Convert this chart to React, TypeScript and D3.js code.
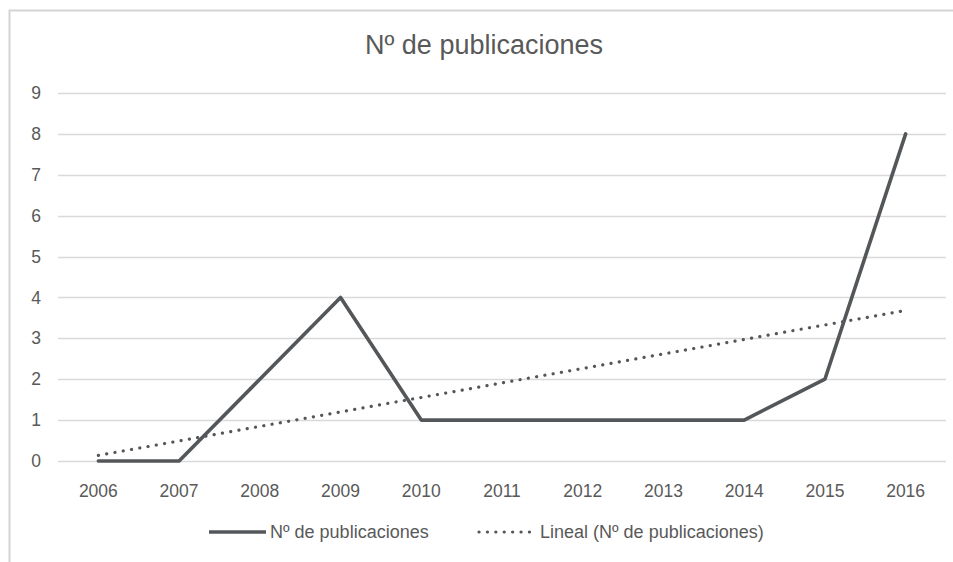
import { useEffect, useRef } from "react";
import * as d3 from "d3";

const YEARS = ["2006", "2007", "2008", "2009", "2010", "2011", "2012", "2013", "2014", "2015", "2016"];
const PUBS = [0, 0, 2, 4, 1, 1, 1, 1, 1, 2, 8];
const Y_TICKS = [0, 1, 2, 3, 4, 5, 6, 7, 8, 9];

const TITLE = "Nº de publicaciones";
const SERIES_LABEL = "Nº de publicaciones";
const TREND_LABEL = "Lineal (Nº de publicaciones)";

const W = 953;
const H = 562;
const FONT = "'Liberation Sans', Arial, sans-serif";
const INK = "#595959";
const LINE = "#545759";

export default function App() {
  const svgRef = useRef<SVGSVGElement | null>(null);

  useEffect(() => {
    const svg = d3.select(svgRef.current);
    svg.selectAll("*").remove();

    const margin = { top: 93, right: 7, bottom: 101, left: 58 };
    const innerW = W - margin.left - margin.right;
    const innerH = H - margin.top - margin.bottom;

    // chart frame (cut off at right/bottom in the original)
    svg.append("rect")
      .attr("x", 9.5)
      .attr("y", 10.5)
      .attr("width", W + 20)
      .attr("height", H + 20)
      .attr("fill", "#fff")
      .attr("stroke", "#d4d4d4")
      .attr("stroke-width", 2);

    svg.append("text")
      .attr("x", 484)
      .attr("y", 54)
      .attr("text-anchor", "middle")
      .attr("font-family", FONT)
      .attr("font-size", 27)
      .attr("fill", INK)
      .text(TITLE);

    const g = svg.append("g").attr("transform", `translate(${margin.left},${margin.top})`);

    const x = d3.scaleBand<string>().domain(YEARS).range([0, innerW]);
    const y = d3.scaleLinear().domain([0, 9]).range([innerH, 0]);
    const cx = (d: string) => (x(d) ?? 0) + x.bandwidth() / 2;

    // gridlines
    g.append("g")
      .selectAll("line")
      .data(Y_TICKS)
      .join("line")
      .attr("x1", 0)
      .attr("x2", innerW)
      .attr("y1", (d) => Math.round(y(d)) + 0.5)
      .attr("y2", (d) => Math.round(y(d)) + 0.5)
      .attr("stroke", "#d9d9d9")
      .attr("stroke-width", 1.3);

    // y labels
    g.append("g")
      .selectAll("text")
      .data(Y_TICKS)
      .join("text")
      .attr("x", -17)
      .attr("y", (d) => y(d))
      .attr("dy", "0.35em")
      .attr("text-anchor", "end")
      .attr("font-family", FONT)
      .attr("font-size", 17.5)
      .attr("fill", INK)
      .text((d) => d);

    // x labels
    g.append("g")
      .selectAll("text")
      .data(YEARS)
      .join("text")
      .attr("x", (d) => cx(d))
      .attr("y", innerH + 36)
      .attr("text-anchor", "middle")
      .attr("font-family", FONT)
      .attr("font-size", 17.5)
      .attr("fill", INK)
      .text((d) => d);

    // linear trend (least squares over category index)
    const idx = YEARS.map((_, i) => i);
    const mx = d3.mean(idx) ?? 0;
    const my = d3.mean(PUBS) ?? 0;
    const sxy = d3.sum(idx, (i) => (i - mx) * (PUBS[i] - my));
    const sxx = d3.sum(idx, (i) => (i - mx) ** 2);
    const slope = sxy / sxx;
    const icpt = my - slope * mx;
    const trend = [0, YEARS.length - 1].map((i) => ({ yr: YEARS[i], v: icpt + slope * i }));

    g.append("path")
      .datum(trend)
      .attr("fill", "none")
      .attr("stroke", LINE)
      .attr("stroke-width", 3.2)
      .attr("stroke-linecap", "round")
      .attr("stroke-dasharray", "0.1 8.3")
      .attr("d", d3.line<{ yr: string; v: number }>().x((d) => cx(d.yr)).y((d) => y(d.v)));

    const data = YEARS.map((yr, i) => ({ yr, v: PUBS[i] }));
    g.append("path")
      .datum(data)
      .attr("fill", "none")
      .attr("stroke", LINE)
      .attr("stroke-width", 3.6)
      .attr("stroke-linejoin", "round")
      .attr("stroke-linecap", "round")
      .attr("d", d3.line<{ yr: string; v: number }>().x((d) => cx(d.yr)).y((d) => y(d.v)));

    // legend
    const leg = svg.append("g").attr("transform", "translate(0,532)");
    leg.append("line")
      .attr("x1", 209).attr("x2", 266).attr("y1", 0).attr("y2", 0)
      .attr("stroke", LINE).attr("stroke-width", 3.6);
    leg.append("text")
      .attr("x", 270).attr("y", 0).attr("dy", "0.35em")
      .attr("font-family", FONT).attr("font-size", 18).attr("fill", INK)
      .text(SERIES_LABEL);
    leg.append("line")
      .attr("x1", 479).attr("x2", 536).attr("y1", 0).attr("y2", 0)
      .attr("stroke", LINE).attr("stroke-width", 3.2)
      .attr("stroke-linecap", "round").attr("stroke-dasharray", "0.1 8.3");
    leg.append("text")
      .attr("x", 540).attr("y", 0).attr("dy", "0.35em")
      .attr("font-family", FONT).attr("font-size", 18).attr("fill", INK)
      .text(TREND_LABEL);
  }, []);

  return (
    <svg
      ref={svgRef}
      width={W}
      height={H}
      style={{ position: "absolute", left: 0, top: 0, display: "block", background: "#fff" }}
    />
  );
}
